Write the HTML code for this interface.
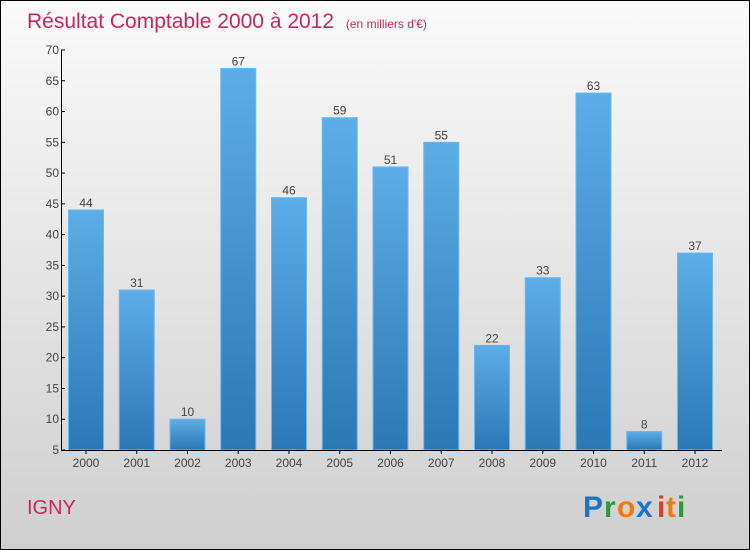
<!DOCTYPE html>
<html><head><meta charset="utf-8"><style>
body{margin:0}
#c{position:relative;width:748px;height:548px;border:1px solid #000;background:linear-gradient(#fafafa,#cfcfcf);font-family:"Liberation Sans",sans-serif;overflow:hidden}
</style></head><body>
<div id="c">
<svg width="748" height="548">
<defs><linearGradient id="g" x1="0" y1="0" x2="0" y2="1"><stop offset="0" stop-color="#5dade8"/><stop offset="1" stop-color="#2a78b6"/></linearGradient></defs>
<text x="26" y="27" font-size="21" fill="#c8275e">Résultat Comptable 2000 à 2012 <tspan font-size="12" dx="6">(en milliers d'€)</tspan></text>
<text x="26" y="513" font-size="20" fill="#c8275e">IGNY</text>
<g font-size="30" font-weight="bold">
<text x="582" y="516" fill="#1a74c8">P</text><text x="603" y="516" fill="#2a9a3a">r</text><text x="616" y="516" fill="#f07a10">o</text><text x="635" y="516" fill="#1a74c8">x</text><text x="656" y="516" fill="#e03a20">i</text><text x="665" y="516" fill="#f07a10">t</text><text x="676" y="516" fill="#2a9a3a">i</text></g>
<g id="plot"></g>
</svg></div>
<script>
const categories=["2000","2001","2002","2003","2004","2005","2006","2007","2008","2009","2010","2011","2012"];
const values=[44,31,10,67,46,59,51,55,22,33,63,8,37];
const yTicks=[5,10,15,20,25,30,35,40,45,50,55,60,65,70];
const NS="http://www.w3.org/2000/svg";
const g=document.getElementById('plot');
const y=v=>449-(v-5)*400/65;
const x=i=>85+i*50.75;
function el(t,a,txt){const e=document.createElementNS(NS,t);for(const k in a)e.setAttribute(k,a[k]);if(txt!==undefined)e.textContent=txt;g.appendChild(e);return e;}
values.forEach((v,i)=>{
 const r=el('rect',{x:x(i)-17.5,y:y(v),width:35,height:449-y(v),fill:'url(#g)',stroke:'#6ab8f0','stroke-width':1});
 
 
 const t=el('text',{x:x(i),y:y(v)-3,'font-size':12,fill:'#444','text-anchor':'middle'},v);
 
 
 const c=el('text',{x:x(i),y:466,'font-size':12,fill:'#444','text-anchor':'middle'},categories[i]);
 
 
 el('line',{x1:x(i),x2:x(i),y1:449,y2:453,stroke:'#000'});
});
yTicks.forEach(t=>{
 el('line',{x1:60,x2:64,y1:y(t),y2:y(t),stroke:'#000'});
 const l=el('text',{x:58,y:y(t)+4,'font-size':12,fill:'#444','text-anchor':'end'},t);
 
 
});
const ya=el('line',{x1:60.5,x2:60.5,y1:49,y2:450,stroke:'#000'});


const xa=el('line',{x1:60,x2:721,y1:449.5,y2:449.5,stroke:'#000'});


</script>
</body></html>
